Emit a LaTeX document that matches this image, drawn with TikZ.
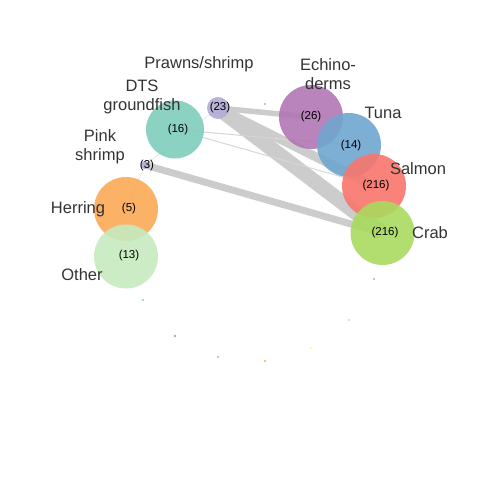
\documentclass[tikz,border=0pt]{standalone}
\usepackage{fontspec}
\setmainfont{Liberation Sans}
\usetikzlibrary{backgrounds}
\definecolor{cprawn}{HTML}{B3ABD6}
\definecolor{cdts}{HTML}{80CDBB}
\definecolor{cpink}{HTML}{B0A8D8}
\definecolor{cherring}{HTML}{FBA855}
\definecolor{cother}{HTML}{C6EABF}
\definecolor{cechino}{HTML}{B175B4}
\definecolor{ctuna}{HTML}{6FA6CF}
\definecolor{csalmon}{HTML}{F8766D}
\definecolor{ccrab}{HTML}{A9DA5E}
\definecolor{cedge}{HTML}{CCCCCC}
\definecolor{clabel}{HTML}{333333}
\tikzset{
  bubble/.style={circle, inner sep=0pt, minimum size=#1, fill opacity=0.9, draw=none},
  numlab/.style={font=\fontsize{11.5}{13}\selectfont, text=black, inner sep=0pt},
  namelab/.style={font=\fontsize{16.5}{19}\selectfont, text=clabel, align=center, inner sep=0pt},
  edgeline/.style={draw=cedge, line width=#1, line cap=butt},
  faint/.style={draw=cedge!45, line width=0.8},
  thin/.style={draw=cedge!80, line width=1},
  speck/.style={circle, inner sep=0pt, minimum size=2.2}
}
\begin{document}
\begin{tikzpicture}[x=1pt,y=-1pt]
\useasboundingbox (0,0) rectangle (480,480);
% bubbles
\node[bubble=22, fill=cprawn] (prawn) at (218,108) {};
\node[bubble=58, fill=cdts] (dts) at (175,129.5) {};
\node[bubble=8, fill=cpink] (pink) at (145,165) {};
\node[bubble=64, fill=cherring] (herring) at (126,209) {};
\node[bubble=64, fill=cother] (other) at (126,256.5) {};
\node[bubble=64, fill=cechino] (echino) at (311,117) {};
\node[bubble=64, fill=ctuna] (tuna) at (349,145) {};
\node[bubble=64, fill=csalmon] (salmon) at (374,186) {};
\node[bubble=64, fill=ccrab] (crab) at (382.5,233) {};
% edges
\begin{scope}[on background layer]
\draw[edgeline=9] (prawn.center) -- (salmon.center);
\draw[edgeline=15] (prawn.center) -- (crab.center);
\draw[edgeline=5.5] (prawn.center) -- (echino.center);
\draw[edgeline=7] (pink.center) -- (crab.center);
\draw[thin] (dts.center) -- (tuna.center);
\draw[thin] (dts.center) -- (salmon.center);
\draw[faint] (prawn.center) -- (pink.center);
\draw[faint] (pink.center) -- (herring.center);
\end{scope}
% specks
\node[speck, fill=cdts] (s1) at (265,104) {};
\node[speck, fill=cdts] (s2) at (143,300) {};
\node[speck, fill=cechino] (s3) at (175,336) {};
\node[speck, fill=cdts] (s4) at (218,357) {};
\node[speck, fill=cherring] (s5) at (265,361) {};
\node[speck, fill=yellow!40] (s6) at (311,348) {};
\node[speck, fill=pink] (s7) at (349,320) {};
\node[speck, fill=cdts] (s8) at (374,279) {};
% numbers
\node[numlab] (nprawn) at (220,108) {(23)};
\node[numlab] (ndts) at (178,130) {(16)};
\node[numlab] (npink) at (147,166) {(3)};
\node[numlab] (nherring) at (129,209) {(5)};
\node[numlab] (nother) at (129,256) {(13)};
\node[numlab] (nechino) at (311,117) {(26)};
\node[numlab] (ntuna) at (351,146) {(14)};
\node[numlab] (nsalmon) at (376,186) {(216)};
\node[numlab] (ncrab) at (385,233) {(216)};
% names
\node[namelab] (lprawn) at (199,64) {Prawns/shrimp};
\node[namelab] (ldts) at (142,97) {DTS\\groundfish};
\node[namelab] (lpink) at (100,147) {Pink\\shrimp};
\node[namelab] (lherring) at (78,209) {Herring};
\node[namelab] (lother) at (82,275) {Other};
\node[namelab] (lechino) at (328,74) {Echino-\\derms};
\node[namelab] (ltuna) at (383,113) {Tuna};
\node[namelab] (lsalmon) at (418,169) {Salmon};
\node[namelab] (lcrab) at (430,233) {Crab};
\end{tikzpicture}
\end{document}
